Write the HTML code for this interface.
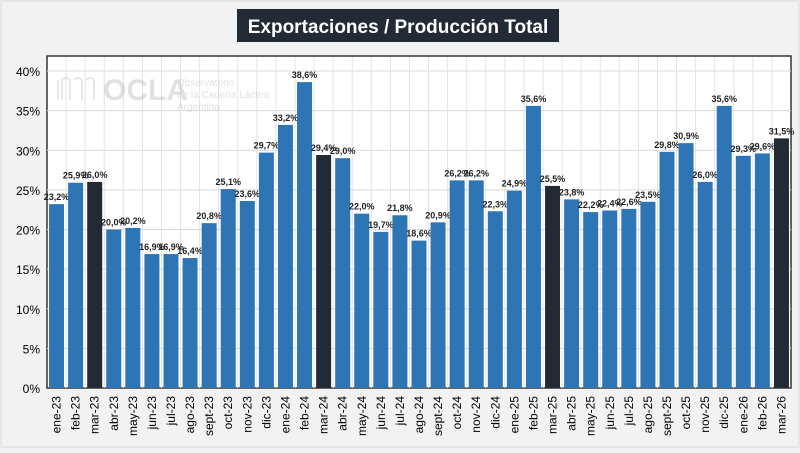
<!DOCTYPE html>
<html><head><meta charset="utf-8"><style>
body{margin:0;width:800px;height:448px;background:#f2f2f2;font-family:"Liberation Sans",sans-serif;overflow:hidden}
</style></head><body>
<svg width="800" height="448" id="c">
<rect x="1" y="1" width="798" height="446" fill="#f2f2f2" stroke="#d9d9d9"/>
<rect x="237" y="9" width="322" height="33" fill="#222a35"/>
<text x="398" y="33" text-anchor="middle" fill="#fff" font-size="19" font-weight="bold">Exportaciones  / Producción Total</text>
<rect x="47" y="56" width="744" height="332" fill="#fff" stroke="#333" stroke-width="1.5"/>
<g id="grid"></g>
<g opacity="0.35">
<text x="103" y="100" font-size="30" font-weight="bold" fill="#aaa">OCLA</text>
<text x="177" y="86" font-size="10" fill="#aaa">Observatorio</text>
<text x="177" y="98" font-size="10" fill="#aaa">de la Cadena Láctea</text>
<text x="177" y="110" font-size="10" fill="#aaa">Argentina</text>
<path d="M58 100 v-20 M62 100 v-20 q4 -4 8 0 v20 M74 80 q4-4 8 0 v20 M86 80 q4 -4 8 0 v20" stroke="#bbb" fill="none" stroke-width="2"/>
</g>
<g id="bars"></g>
<g id="axis"></g>
</svg>
<script>
const categories=["ene-23","feb-23","mar-23","abr-23","may-23","jun-23","jul-23","ago-23","sept-23","oct-23","nov-23","dic-23","ene-24","feb-24","mar-24","abr-24","may-24","jun-24","jul-24","ago-24","sept-24","oct-24","nov-24","dic-24","ene-25","feb-25","mar-25","abr-25","may-25","jun-25","jul-25","ago-25","sept-25","oct-25","nov-25","dic-25","ene-26","feb-26","mar-26"];
const values=[23.2,25.9,26.0,20.0,20.2,16.9,16.9,16.4,20.8,25.1,23.6,29.7,33.2,38.6,29.4,29.0,22.0,19.7,21.8,18.6,20.9,26.2,26.2,22.3,24.9,35.6,25.5,23.8,22.2,22.4,22.6,23.5,29.8,30.9,26.0,35.6,29.3,29.6,31.5];
const highlighted=["mar-23","mar-24","mar-25","mar-26"];
const yTicks=[0,5,10,15,20,25,30,35,40];
const NS="http://www.w3.org/2000/svg";
const X0=47,W=744,Y0=388,YT=71,YMAX=40;
const slot=W/categories.length;
const y=v=>Y0-(Y0-YT)*v/YMAX;
const x=i=>X0+slot*i;
function mk(tag,attrs,parent){const e=document.createElementNS(NS,tag);for(const k in attrs)e.setAttribute(k,attrs[k]);document.getElementById(parent).appendChild(e);return e;}
yTicks.forEach(t=>{
 if(t>0){const l=mk('line',{x1:X0,x2:X0+W,y1:y(t),y2:y(t),stroke:'#d9d9d9'},'grid');
 
 }
 const tx=mk('text',{x:40,y:y(t)+5,'text-anchor':'end','font-size':'12',fill:'#000'},'axis');tx.textContent=t+'%';
 
 
});
for(let i=1;i<categories.length;i++){
 const l=mk('line',{x1:x(i),x2:x(i),y1:57,y2:Y0,stroke:'#e3e3e3'},'grid');
 
 
}
categories.forEach((c,i)=>{
 const v=values[i];const bw=15;const bx=x(i)+(slot-bw)/2;
 const r=mk('rect',{x:bx,y:y(v),width:bw,height:Y0-y(v),fill:highlighted.includes(c)?'#222a35':'#2e75b6'},'bars');
 
 
 const lb=mk('text',{x:bx+bw/2,y:y(v)-4,'text-anchor':'middle','font-size':'9','font-weight':'bold',fill:'#222'},'bars');
 lb.textContent=v.toFixed(1).replace('.',',')+'%';
 
 
 const cx=bx+bw/2+4;
 const tl=mk('text',{x:cx,y:396,'text-anchor':'end','font-size':'12',fill:'#000',transform:`rotate(-90 ${cx} 396)`},'axis');
 tl.textContent=c;
 
 
});
</script>
</body></html>
